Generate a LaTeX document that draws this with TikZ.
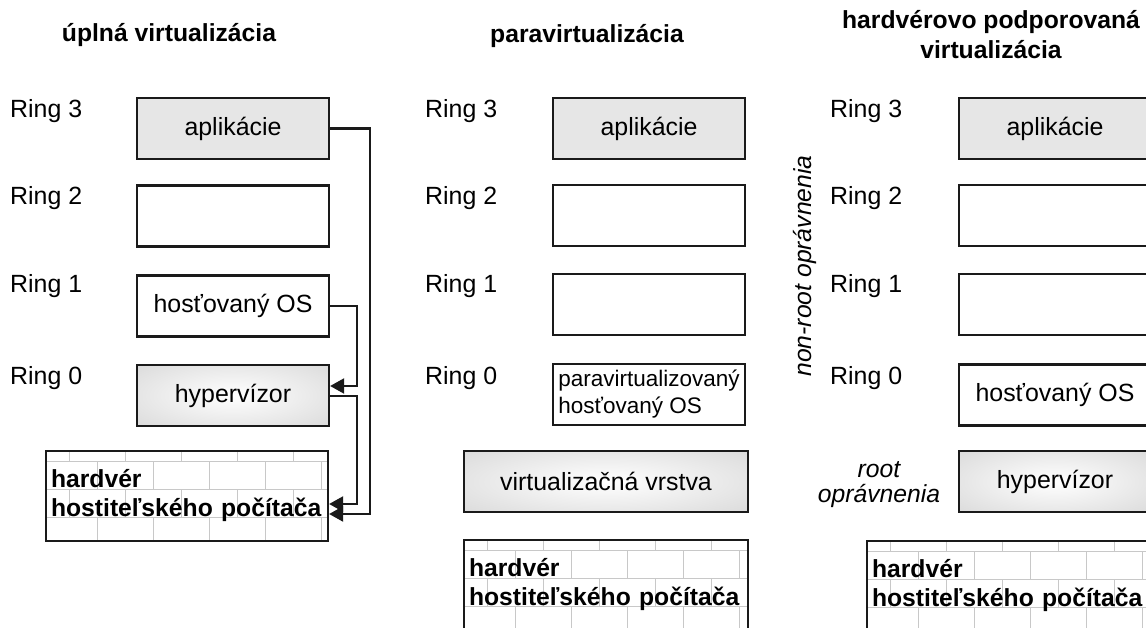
\documentclass[tikz,border=0pt]{standalone}
\usepackage{fontspec}
\setmainfont{Liberation Sans}
\usetikzlibrary{arrows.meta,calc}
\definecolor{boxfill}{HTML}{E6E6E6}
\definecolor{hypfill}{HTML}{DCDCDC}
\definecolor{brickline}{HTML}{C8C8C8}
\definecolor{edgecol}{HTML}{1A1A1A}
\newcommand\mybricks[4]{%
  \begin{scope}
    \clip (#1,#2) rectangle ++(#3,#4);
    \foreach \yy in {10,38,66} \draw[brickline,line width=1pt] (#1,#2+\yy) -- ++(#3,0);
    \foreach \k in {0,...,5} {
      \draw[brickline,line width=1pt] (#1+23+56*\k,#2) -- ++(0,10);
      \draw[brickline,line width=1pt] (#1+51+56*\k,#2+10) -- ++(0,28);
      \draw[brickline,line width=1pt] (#1+23+56*\k,#2+38) -- ++(0,28);
      \draw[brickline,line width=1pt] (#1+51+56*\k,#2+66) -- ++(0,#4-66);
    }
  \end{scope}}
\begin{document}
\begin{tikzpicture}[x=1pt,y=-1pt,
  lbl/.style={font=\fontsize{24.9}{29}\selectfont, inner sep=0, anchor=base west},
  ttl/.style={font=\fontsize{24.7}{30}\selectfont\bfseries, inner sep=0, anchor=base, align=center},
  ringbox/.style={draw=edgecol, line width=2.2pt, minimum width=192pt, minimum height=61pt, inner sep=0, font=\fontsize{24.9}{29}\selectfont},
  appbox/.style={ringbox, fill=boxfill},
  hypbox/.style={ringbox, fill=hypfill, path picture={\shade[inner color=white, outer color=hypfill] ([xshift=-#1,yshift=-44pt]path picture bounding box.center) rectangle ([xshift=#1,yshift=44pt]path picture bounding box.center);}},
  hypbox/.default=130pt,
  hwbox/.style={draw=edgecol, line width=2.2pt, minimum height=90pt, inner xsep=5pt, inner ysep=0, align=left, font=\fontsize{24.7}{29}\selectfont\bfseries},
  conn/.style={draw=edgecol, line width=2.1pt},
  tip/.style={conn, -{Triangle[length=14pt,width=15pt]}},
  ital/.style={font=\fontsize{24.7}{25}\selectfont\itshape, inner sep=0, align=center}
]
\useasboundingbox (0,0) rectangle (1146,628);
\clip (0,0) rectangle (1146,628);

% ---------- bricks (drawn first) ----------
\mybricks{46}{451}{282}{90}
\mybricks{464}{540}{284}{90}
\mybricks{867}{541}{284}{90}

% ---------- titles ----------
\node[ttl] (t1) at (169,42) {úplná virtualizácia};
\node[ttl] (t2) at (587,43) {paravirtualizácia};
\node[ttl, anchor=north] (t3) at (991,10) {hardvérovo podporovaná\\virtualizácia};

% ---------- ring labels ----------
\foreach \xx/\col in {10/a,425/b,830/c}{
  \node[lbl] (r3\col) at (\xx,118) {Ring 3};
  \node[lbl] (r2\col) at (\xx,205) {Ring 2};
  \node[lbl] (r1\col) at (\xx,293) {Ring 1};
  \node[lbl] (r0\col) at (\xx,384) {Ring 0};
}

% ---------- left column ----------
\node[appbox] (app1) at (233,128.5) {aplikácie};
\node[ringbox] (e2a) at (233,216) {};
\node[ringbox] (os1) at (233,306) {hosťovaný OS};
\node[hypbox] (hyp1) at (233,395.5) {hypervízor};
\node[hwbox, text width=272pt] (hw1) at (187,496) {hardvér\\hostiteľského~počítača};

% ---------- middle column ----------
\node[appbox] (app2) at (649,128.5) {aplikácie};
\node[ringbox] (e2b) at (649,215.5) {};
\node[ringbox] (e1b) at (649,304.5) {};
\node[ringbox, align=left, font=\fontsize{22.5}{27}\selectfont] (pos2) at (649,394.5) {paravirtualizovaný\\hosťovaný OS};
\node[hypbox=190pt, minimum width=284pt] (virt2) at (606,481.5) {virtualizačná vrstva};
\node[hwbox, text width=274pt] (hw2) at (606,585) {hardvér\\hostiteľského~počítača};

% ---------- right column ----------
\node[appbox] (app3) at (1055,128.5) {aplikácie};
\node[ringbox] (e2c) at (1055,215.5) {};
\node[ringbox] (e1c) at (1055,304.5) {};
\node[ringbox] (os3) at (1055,395) {hosťovaný OS};
\node[hypbox] (hyp3) at (1055,481.5) {hypervízor};
\node[hwbox, text width=274pt] (hw3) at (1009,586) {hardvér\\hostiteľského~počítača};

\node[ital, rotate=90] (nonroot) at (805,266) {non-root oprávnenia};
\node[ital] (root) at (879,485) {root\\oprávnenia};

% ---------- connectors (left column) ----------
\coordinate (ca) at (370,514);
\coordinate (cb) at (357,386);
\coordinate (cc) at (357,396);
\coordinate (cd) at (357,504);
\draw[tip] (app1.east) -| (ca) -- (hw1.east |- ca);
\draw[tip] (os1.east) -| (cb) -- (hyp1.east |- cb);
\draw[tip] (hyp1.east |- cc) -- (cc) -- (cd) -- (hw1.east |- cd);
\end{tikzpicture}
\end{document}
